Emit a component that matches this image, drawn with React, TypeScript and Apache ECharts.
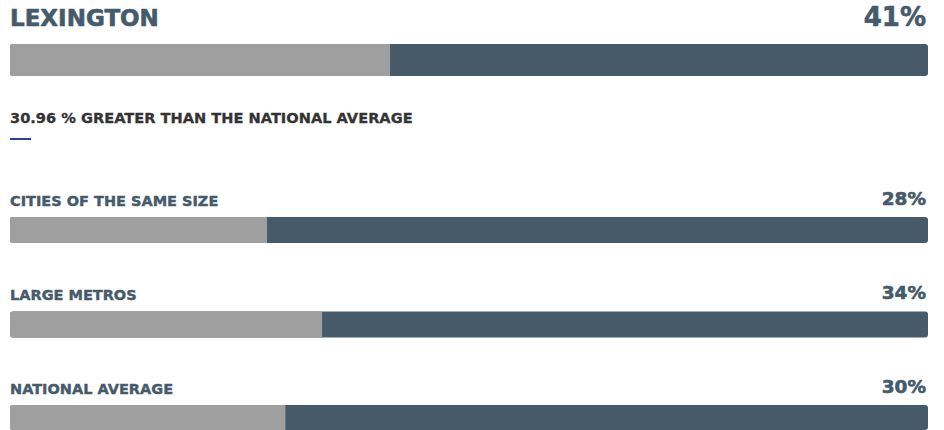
import React, { useEffect, useRef } from "react";
import * as echarts from "echarts";

const categories = ["LEXINGTON", "CITIES OF THE SAME SIZE", "LARGE METROS", "NATIONAL AVERAGE"];
const values = [41.4, 28, 34, 30];
const subtitle = "30.96 % GREATER THAN THE NATIONAL AVERAGE";

const GRAY = "#9f9f9f";
const DARK = "#475a6a";
const TEXT = "#455a6b";
const FONT = "'DejaVu Sans', sans-serif";

// layout
const barTops = [44, 217, 311.5, 405];
const barHeights = [32, 26, 26, 26];
const labelY = [17.5, 200.5, 294.5, 388.5];
const pctY = [17, 198, 292, 386];
const labelSizes = [23, 14.5, 14.5, 14.5];
const pctSizes = [26, 18.5, 18.5, 18.5];

export default function App() {
  const ref = useRef<HTMLDivElement>(null);
  useEffect(() => {
    document.body.style.margin = "0";
    if (!ref.current) return;
    const chart = echarts.init(ref.current, null, { renderer: "svg" });
    const grids: any[] = [];
    const xAxes: any[] = [];
    const yAxes: any[] = [];
    const series: any[] = [];
    const graphics: any[] = [];
    categories.forEach((cat, i) => {
      grids.push({ left: 10, right: 16, top: barTops[i], height: barHeights[i] });
      xAxes.push({ type: "value", min: 0, max: 100, show: false, gridIndex: i });
      yAxes.push({ type: "category", data: [cat], show: false, gridIndex: i });
      series.push({
        type: "bar",
        xAxisIndex: i,
        yAxisIndex: i,
        data: [values[i]],
        barWidth: "100%",
        showBackground: true,
        backgroundStyle: { color: DARK, borderRadius: 3 },
        itemStyle: { color: GRAY, borderRadius: [3, 0, 0, 3] },
        silent: true,
      });
      graphics.push({
        type: "text",
        x: 10,
        y: labelY[i],
        style: {
          text: cat,
          fill: TEXT,
          stroke: TEXT,
          lineWidth: i === 0 ? 0.6 : 0.4,
          font: `bold ${labelSizes[i]}px ${FONT}`,
          textAlign: "left",
          textVerticalAlign: "middle",
        },
      });
      graphics.push({
        type: "text",
        x: 926,
        y: pctY[i],
        style: {
          text: `${Math.round(values[i])}%`,
          fill: TEXT,
          stroke: TEXT,
          lineWidth: 0.6,
          font: `bold ${pctSizes[i]}px ${FONT}`,
          textAlign: "right",
          textVerticalAlign: "middle",
        },
      });
    });
    graphics.push({
      type: "text",
      x: 10,
      y: 117.5,
      style: {
        text: subtitle,
        fill: "#333333",
        stroke: "#333333",
        lineWidth: 0.3,
        font: `bold 14.6px ${FONT}`,
        textAlign: "left",
        textVerticalAlign: "middle",
      },
    });
    graphics.push({
      type: "rect",
      shape: { x: 10, y: 138, width: 21, height: 2 },
      style: { fill: "#2b3fa6" },
    });
    chart.setOption({
      animation: false,
      grid: grids,
      xAxis: xAxes,
      yAxis: yAxes,
      series,
      graphic: graphics,
    });
    return () => chart.dispose();
  }, []);
  return <div ref={ref} style={{ width: 944, height: 430 }} />;
}
